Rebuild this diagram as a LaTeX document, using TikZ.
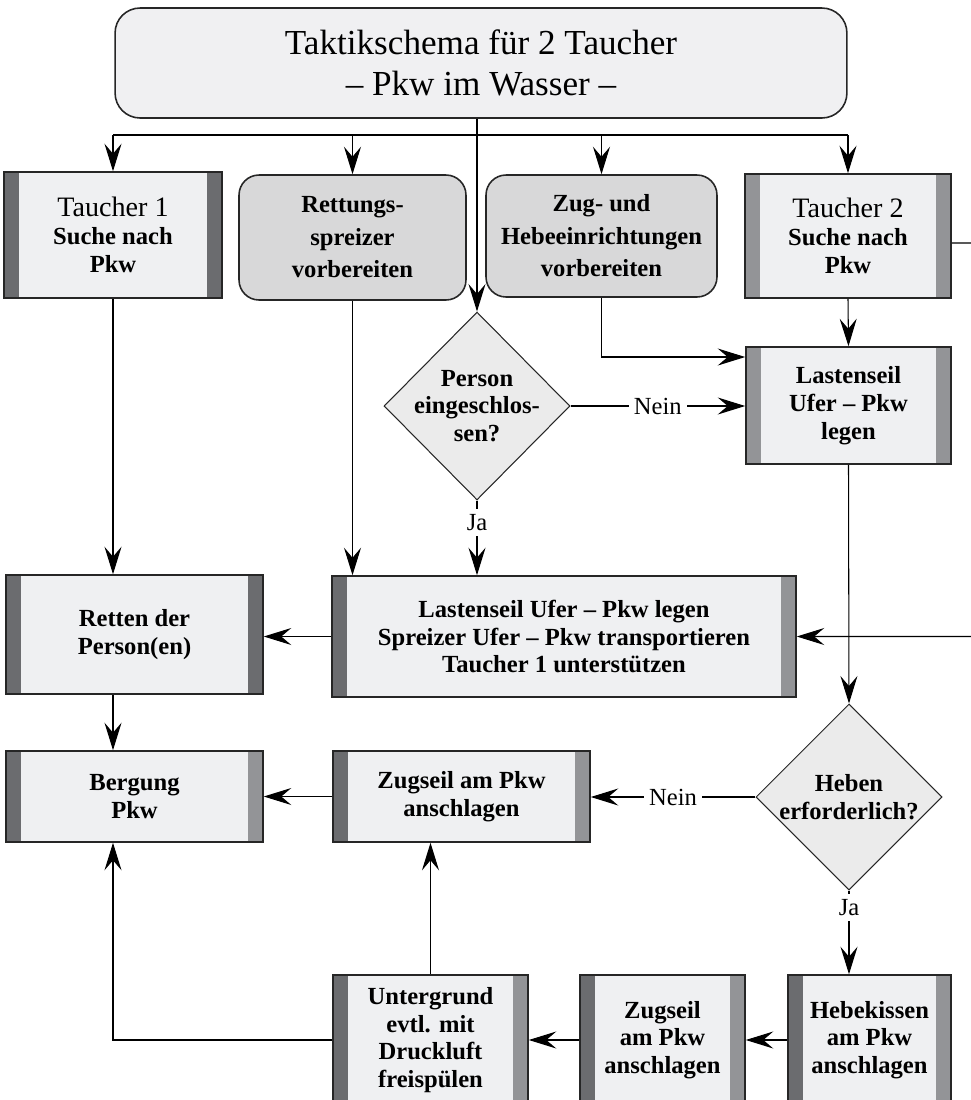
\documentclass[tikz,border=0pt]{standalone}
\usepackage{fontspec}
\setmainfont{Liberation Serif}
\usetikzlibrary{arrows.meta,shapes.geometric}
\definecolor{Kasten}{HTML}{EFF0F2}
\definecolor{Titel}{HTML}{F0F0F2}
\definecolor{BalkenDunkel}{HTML}{6B6C6F}
\definecolor{BalkenHell}{HTML}{939497}
\definecolor{Vorbereiten}{HTML}{D8D8D9}
\definecolor{Raute}{HTML}{EBEBEB}

\begin{document}
\begin{tikzpicture}[x=0.02cm,y=-0.02cm,>={Stealth[length=5.5mm,width=3.4mm,inset=2mm]},every node/.style={align=center,font=\fontsize{14}{15.8}\selectfont},
pfeil/.style={->,line width=0.6pt},linie/.style={line width=0.6pt},antwort/.style={fill=white,inner sep=3pt},
aufgabe/.style 2 args={draw=black!85,line width=0.9pt,fill=Kasten,inner sep=0pt,font=\fontsize{14}{15.8}\selectfont\bfseries,
  path picture={\fill[#1] (path picture bounding box.south west) rectangle ([xshift=2.9mm]path picture bounding box.north west);
    \fill[#2] (path picture bounding box.south east) rectangle ([xshift=-2.9mm]path picture bounding box.north east);}},
vorbereitung/.style={draw=black!85,line width=0.9pt,fill=Vorbereiten,rounded corners=4mm,inner sep=0pt,font=\fontsize{14}{18.5}\selectfont\bfseries},
frage/.style={diamond,draw=black!85,line width=0.6pt,fill=Raute,inner sep=-5mm,font=\fontsize{14}{15.8}\selectfont\bfseries}]
\useasboundingbox (0,0) rectangle (971,1100);
\node[draw=black!85,line width=0.9pt,fill=Titel,rounded corners=5mm,minimum width=14.64cm,minimum height=2.2cm,font=\fontsize{20}{23}\selectfont] (titel) at (481,63) {Taktikschema für 2 Taucher\\– Pkw im Wasser –};
\node[aufgabe={BalkenDunkel}{BalkenDunkel},minimum width=4.36cm,minimum height=2.52cm] (taucher1) at (113,235) {{\mdseries\fontsize{16}{15.8}\selectfont Taucher 1}\\Suche nach\\Pkw};
\node[vorbereitung,minimum width=4.54cm,minimum height=2.5cm] (spreizer) at (352.5,237.5) {Rettungs-\\spreizer\\vorbereiten};
\node[vorbereitung,minimum width=4.62cm,minimum height=2.44cm] (zughebe) at (601.5,236) {Zug- und\\Hebeeinrichtungen\\vorbereiten};
\node[aufgabe={BalkenHell}{BalkenHell},minimum width=4.12cm,minimum height=2.48cm] (taucher2) at (848,236) {{\mdseries\fontsize{16}{15.8}\selectfont Taucher 2}\\Suche nach\\Pkw};
\node[frage,minimum width=3.72cm,minimum height=3.76cm] (person) at (477,406) {Person\\eingeschlos-\\sen?};
\node[aufgabe={BalkenHell}{BalkenHell},minimum width=4.1cm,minimum height=2.34cm] (lastenseil) at (848.5,405.5) {Lastenseil\\Ufer – Pkw\\legen};
\node[aufgabe={BalkenDunkel}{BalkenHell},minimum width=9.28cm,minimum height=2.42cm] (mitte) at (564,636.5) {Lastenseil Ufer – Pkw legen\\Spreizer Ufer – Pkw transportieren\\Taucher 1 unterstützen};
\node[aufgabe={BalkenDunkel}{BalkenDunkel},minimum width=5.14cm,minimum height=2.38cm] (retten) at (134.5,634.5) {Retten der\\Person(en)};
\node[aufgabe={BalkenDunkel}{BalkenHell},minimum width=5.14cm,minimum height=1.82cm] (bergung) at (134.5,796.5) {Bergung\\Pkw};
\node[aufgabe={BalkenDunkel}{BalkenHell},minimum width=5.14cm,minimum height=1.82cm] (zugseil) at (461.5,796.5) {Zugseil am Pkw\\anschlagen};
\node[frage,minimum width=3.72cm,minimum height=3.72cm] (heben) at (849,797) {Heben\\erforderlich?};
\node[aufgabe={BalkenDunkel}{BalkenHell},minimum width=3.9cm,minimum height=2.6cm] (untergrund) at (430.5,1040) {Untergrund\\evtl. mit\\Druckluft\\freispülen};
\node[aufgabe={BalkenDunkel}{BalkenHell},minimum width=3.3cm,minimum height=2.6cm] (zugseil2) at (662.5,1040) {Zugseil\\am Pkw\\anschlagen};
\node[aufgabe={BalkenDunkel}{BalkenHell},minimum width=3.26cm,minimum height=2.6cm] (hebekissen) at (869.5,1040) {Hebekissen\\am Pkw\\anschlagen};
\coordinate (verteiler) at (477,135);
\coordinate (rand) at (972,243);
\draw[linie] (taucher1.north |- verteiler) -- (taucher2.north |- verteiler);
\foreach \ziel in {taucher1,spreizer,zughebe,taucher2} \draw[pfeil] (\ziel.north |- verteiler) -- (\ziel.north);
\draw[pfeil] (titel.south -| person.north) -- (person.north);
\draw[pfeil] (taucher1.south) -- (taucher1.south |- retten.north);
\draw[pfeil] (spreizer.south) -- (spreizer.south |- mitte.north);
\draw[pfeil] (person.south) -- node[antwort,pos=0.3]{Ja} (person.south |- mitte.north);
\draw[pfeil] (person.east) -- node[antwort]{Nein} (person.east -| lastenseil.west);
\draw[pfeil] (zughebe.south) |- ([yshift=0.97cm]lastenseil.west);
\draw[pfeil] (taucher2.south) -- (lastenseil.north);
\draw[pfeil] ([yshift=-0.14cm]taucher2.east) -- (rand) |- (mitte.east);
\draw[pfeil] (lastenseil.south) -- (heben.north);
\draw[pfeil] (mitte.west) -- (mitte.west -| retten.east);
\draw[pfeil] (retten.south -| taucher1.south) -- (bergung.north -| taucher1.south);
\draw[pfeil] (heben.west) -- node[antwort]{Nein} (heben.west -| zugseil.east);
\draw[pfeil] (zugseil.west) -- (zugseil.west -| bergung.east);
\draw[pfeil] (heben.south) -- node[antwort,pos=0.2]{Ja} (heben.south |- hebekissen.north);
\draw[pfeil] (hebekissen.west) -- (zugseil2.east);
\draw[pfeil] (zugseil2.west) -- (untergrund.east);
\draw[pfeil] (untergrund.north) -- (untergrund.north |- zugseil.south);
\draw[pfeil] (untergrund.west) -| (bergung.south -| taucher1.south);
\end{tikzpicture}
\end{document}
